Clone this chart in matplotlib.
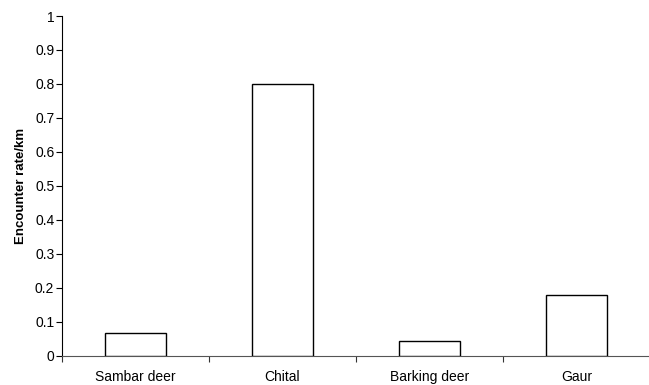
import matplotlib.pyplot as plt
import numpy as np

plt.rcParams['font.family'] = ['Liberation Sans', 'DejaVu Sans']

species = ['Sambar deer', 'Chital', 'Barking deer', 'Gaur']
rate = [0.066, 0.80, 0.042, 0.179]

fig = plt.figure(figsize=(6.49, 3.85), dpi=100)
ax = fig.add_axes([62/649, 1 - 355.7/385, 588/649, 339.7/385])

x = np.arange(len(species))
ax.bar(x, rate, width=0.41, color='white', edgecolor='black', linewidth=1.0, zorder=3)

ax.set_xlim(-0.5, len(species) - 0.5)
ax.set_ylim(0, 1)
ax.set_yticks(np.arange(0, 1.01, 0.1))
ax.set_yticklabels(['0'] + ['%.1f' % v for v in np.arange(0.1, 0.95, 0.1)] + ['1'])
ax.set_xticks(x)
ax.set_xticklabels(species)
ax.set_xticks(np.arange(-0.5, len(species)), minor=True)
ax.tick_params(axis='x', which='major', length=0, pad=10, labelsize=10)
ax.tick_params(axis='x', which='minor', length=4, width=0.8, direction='out', color='#333333')
ax.tick_params(axis='y', length=4, width=0.8, labelsize=10, pad=1.5)

for s in ['top', 'right']:
    ax.spines[s].set_visible(False)
ax.spines['left'].set_linewidth(0.8)
ax.spines['bottom'].set_linewidth(0.8)
ax.spines['bottom'].set_color('#555555')

ax.set_ylabel('Encounter rate/km', fontsize=9.5, fontweight='bold', labelpad=6)

fig.savefig('out.png', dpi=100)
